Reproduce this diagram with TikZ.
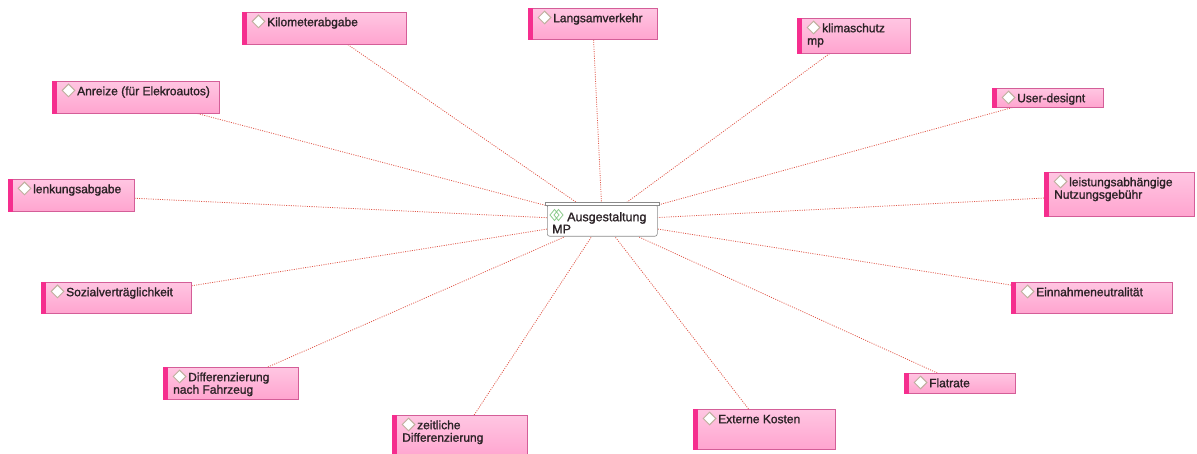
\documentclass[tikz,border=0pt]{standalone}
\usepackage{fontspec}
\newfontfamily\labelfont{Liberation Sans}[FakeBold=1.3]
\usetikzlibrary{shapes.geometric,backgrounds}

\definecolor{pinktop}{HTML}{FFC6E2}
\definecolor{pinkbot}{HTML}{FFA4CF}
\definecolor{boxedge}{HTML}{D45E98}
\definecolor{barpink}{HTML}{F52E8E}
\definecolor{markedge}{HTML}{BFAF9E}
\definecolor{linkred}{HTML}{E0584A}
\definecolor{ink}{HTML}{2B2226}
\definecolor{hubedge}{HTML}{8A8A8A}
\definecolor{icongreen}{HTML}{8CCB8C}

\tikzset{
  topicbox/.style={rectangle, draw=boxedge, line width=0.6pt,
    top color=pinktop, bottom color=pinkbot, inner sep=0pt, anchor=north west},
  topictext/.style={anchor=north west, inner sep=0pt, align=left, text=ink,
    font=\labelfont\fontsize{12}{12.5}\selectfont},
  marker/.style={diamond, draw=markedge, fill=white, line width=1pt,
    inner sep=0pt, minimum width=13pt, minimum height=13pt},
  link/.style={draw=linkred, line width=0.8pt, dash pattern=on 1pt off 1.3pt},
  hubbox/.style={rectangle, draw=hubedge, fill=white, line width=0.6pt,
    rounded corners=2.5pt, inner sep=0pt, anchor=north west},
}

% \topic{name}{left}{top}{right}{bottom}{text}
\newcommand\topic[6]{%
  \node[topicbox, minimum width={(#4-#2)*1pt}, minimum height={(#5-#3)*1pt}] (#1) at (#2,#3) {};
  \fill[barpink] (#1.north west) rectangle ([xshift=5pt]#1.south west);
  \node[marker] at ([xshift=16.5pt,yshift=-9.5pt]#1.north west) {};
  \node[topictext] at ([xshift=10pt,yshift=-4pt]#1.north west) {\rule{0pt}{10pt}\hspace*{15pt}#6};
}

\begin{document}
\begin{tikzpicture}[x=1pt,y=-1pt]
  \useasboundingbox (0,0) rectangle (1197,454);

  % central topic
  \node[hubbox, minimum width=110pt, minimum height=32pt] (hub) at (547,204) {};
  \draw[draw=hubedge, fill=white, line width=0.6pt]
    ([xshift=-1.5pt,yshift=1.5pt]hub.north west) rectangle ([xshift=1.5pt,yshift=-1.5pt]hub.north east);
  \draw[icongreen, line width=0.8pt]
    (550,215) -- (554.5,209.5) -- (559,215) -- (554.5,220.5) -- cycle
    (554,215) -- (558.5,209.5) -- (563,215) -- (558.5,220.5) -- cycle;
  \node[topictext, font=\labelfont\fontsize{12.5}{10.5}\selectfont]
    at ([xshift=5pt,yshift=-7pt]hub.north west) {\rule{0pt}{10pt}\hspace*{15pt}Ausgestaltung\\MP};

  % surrounding topics
  \topic{km}{242}{12}{406}{44}{Kilometerabgabe}
  \topic{lang}{528}{8}{657}{39}{Langsamverkehr}
  \topic{klima}{797}{18}{910}{53}{klimaschutz\\mp}
  \topic{user}{992}{88}{1103}{107}{User-designt}
  \topic{leist}{1044}{172}{1194}{216}{leistungsabhängige\\Nutzungsgebühr}
  \topic{einn}{1011}{282}{1172}{313}{Einnahmeneutralität}
  \topic{flat}{904}{373}{1015}{393}{Flatrate}
  \topic{ext}{693}{409}{835}{449}{Externe Kosten}
  \topic{zeit}{392}{415}{527}{458}{zeitliche\\Differenzierung}
  \topic{diff}{163}{367}{298}{399}{Differenzierung\\nach Fahrzeug}
  \topic{sozial}{41}{282}{191}{313}{Sozialverträglichkeit}
  \topic{lenk}{8}{179}{134}{211}{lenkungsabgabe}
  \topic{anreize}{52}{81}{219}{113}{Anreize (für Elekroautos)}

  % connectors
  \begin{scope}[on background layer]
    \foreach \t in {km,lang,klima,user,leist,einn,flat,ext,zeit,diff,sozial,lenk,anreize}
      \draw[link] (\t) -- (hub);
  \end{scope}
\end{tikzpicture}
\end{document}
